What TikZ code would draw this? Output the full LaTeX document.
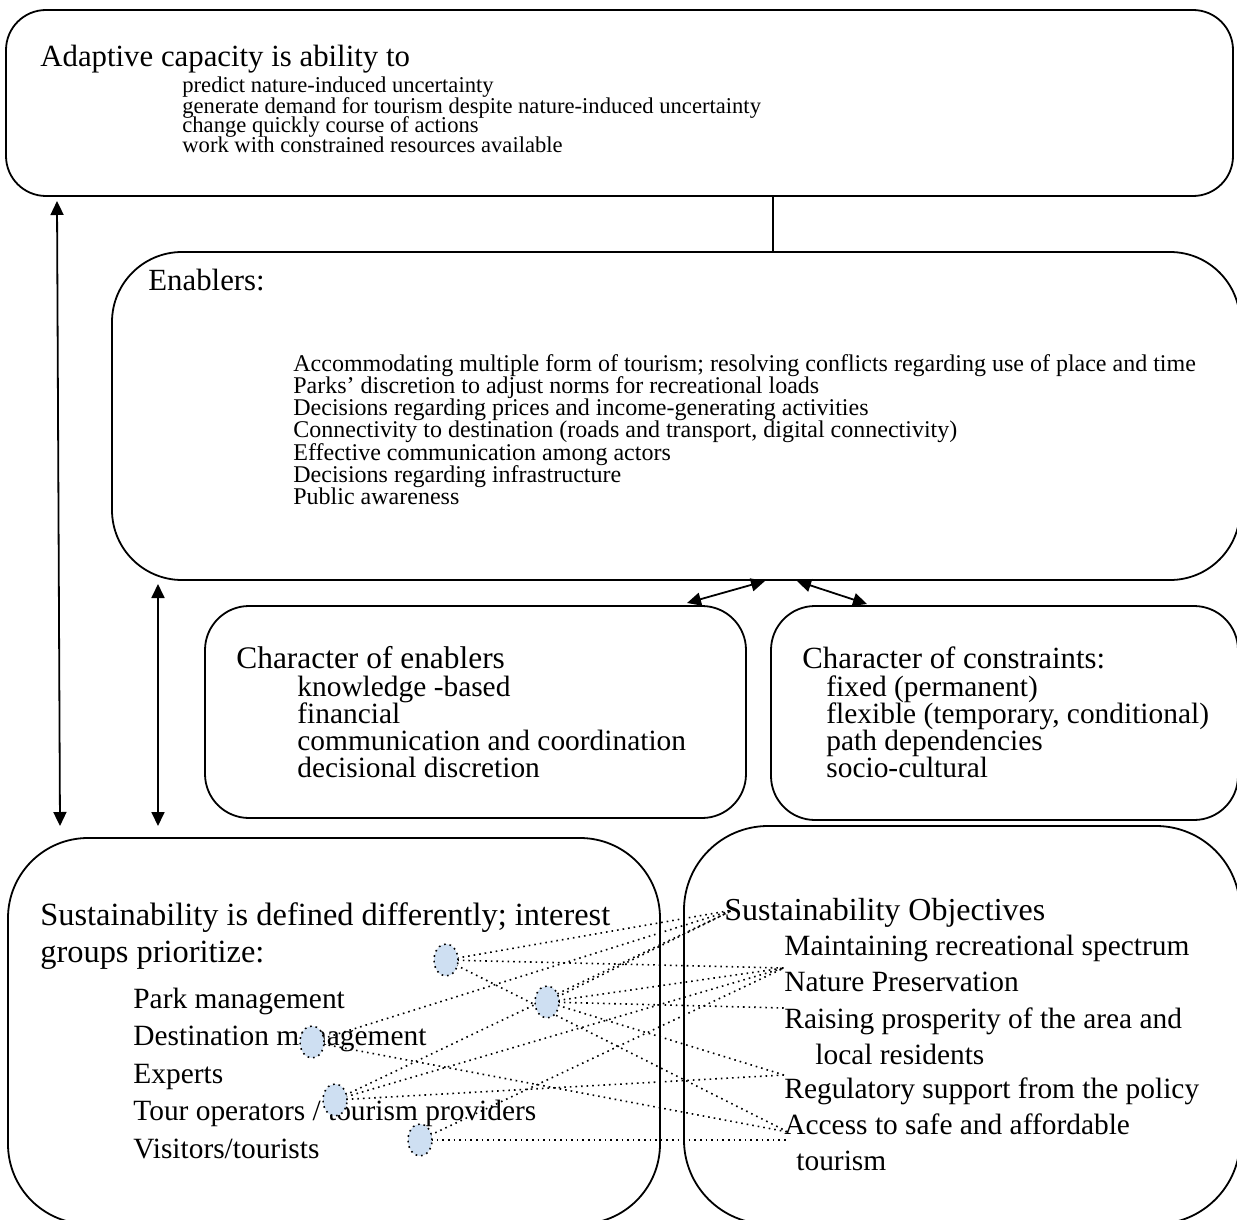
\documentclass[tikz,border=0pt]{standalone}
\usepackage{fontspec}
\setmainfont{Liberation Serif}
\usetikzlibrary{arrows.meta,shapes.geometric}

\definecolor{dotblue}{RGB}{206,223,242}

\newcommand{\bigtxt}{\fontsize{15.4}{18}\selectfont}
\newcommand{\toptxt}{\fontsize{16.2}{18}\selectfont}
\newcommand{\midtxt}{\fontsize{14.7}{18}\selectfont}
\newcommand{\smalltxt}{\fontsize{11.3}{9}\selectfont}
\newcommand{\listtxt}{\fontsize{12}{9}\selectfont}

\tikzset{
  box/.style={draw, line width=0.9pt, rounded corners=#1},
  box/.default=20pt,
  head/.style={anchor=base west, inner sep=0pt, font=\bigtxt},
  item/.style={anchor=base west, inner sep=0pt, font=\smalltxt},
  group/.style={ellipse, draw, dotted, line width=0.8pt, fill=dotblue,
    minimum width=12pt, minimum height=16pt, inner sep=0pt},
  link/.style={dotted, line width=0.8pt}
}

\begin{document}
\begin{tikzpicture}[x=0.5pt, y=-0.5pt, >={Triangle[length=7pt,width=6.5pt]}]
    \useasboundingbox (0,0) rectangle (1237,1220);
    \clip (0,0) rectangle (1237,1220);

    % boxes
    \node[box=20pt, minimum width=613.5pt, minimum height=93pt] (adapt) at (619.5,103) {};
    \node[box=35pt, minimum width=564pt, minimum height=164pt] (enab) at (676,416) {};
    \node[box=22pt, minimum width=270.5pt, minimum height=106pt] (charen) at (475.5,712) {};
    \node[box=22pt, minimum width=233.5pt, minimum height=107pt] (charco) at (1004.5,713) {};
    \node[box=40pt, minimum width=326pt, minimum height=193pt] (sustl) at (334,1031) {};
    \node[box=42pt, minimum width=278pt, minimum height=199pt] (sustr) at (962,1025) {};

    % adaptive capacity
    \node[head] (adapttitle) at (40,67) {Adaptive capacity is ability to};
    \foreach \t [count=\i from 0] in {predict nature-induced uncertainty,
        generate demand for tourism despite nature-induced uncertainty,
        change quickly course of actions,
        work with constrained resources available}
      \node[item] (adapt\i) at (182,93+20*\i) {\t};

    % enablers
    \node[head] (enabtitle) at (148,290) {Enablers:};
    \foreach \t [count=\i from 0] in {Accommodating multiple form of tourism; resolving conflicts regarding use of place and time,
        Parks’ discretion to adjust norms for recreational loads,
        Decisions regarding prices and income-generating activities,
        {Connectivity to destination (roads and transport, digital connectivity)},
        Effective communication among actors,
        Decisions regarding infrastructure,
        Public awareness}
      \node[item, font=\listtxt] (enab\i) at (293,371+22.3*\i) {\t};

    % character of enablers / constraints
    \node[head, font=\fontsize{15.7}{18}\selectfont] (charentitle) at (236,668) {Character of enablers};
    \foreach \t [count=\i from 0] in {knowledge -based, financial,
        communication and coordination, decisional discretion}
      \node[head, font=\midtxt] (charen\i) at (297,696+27*\i) {\t};
    \node[head] (charcotitle) at (802,668) {Character of constraints:};
    \foreach \t [count=\i from 0] in {fixed (permanent),
        {flexible (temporary, conditional)}, path dependencies, socio-cultural}
      \node[head, font=\midtxt] (charco\i) at (826,696+27*\i) {\t};

    % sustainability
    \node[head, font=\toptxt] (sustl1) at (40,925) {Sustainability is defined differently; interest};
    \node[head, font=\toptxt] (sustl2) at (40,962) {groups prioritize:};
    \foreach \t [count=\i from 0] in {Park management, Destination management,
        Experts, Tour operators / tourism providers, Visitors/tourists}
      \node[head, font=\midtxt] (party\i) at (133,1008+37.5*\i) {\t};

    \node[head, font=\fontsize{16}{18}\selectfont] (sustr0) at (724,920) {Sustainability Objectives};
    \node[head, font=\midtxt] (obj1) at (784,955) {Maintaining recreational spectrum};
    \node[head, font=\midtxt] (obj2) at (784,991) {Nature Preservation};
    \node[head, font=\midtxt] (obj3) at (784,1028) {Raising prosperity of the area and};
    \node[head, font=\midtxt] (obj3b) at (815,1064) {local residents};
    \node[head, font=\midtxt] (obj4) at (784,1098) {Regulatory support from the policy};
    \node[head, font=\midtxt] (obj5) at (784,1134) {Access to safe and affordable};
    \node[head, font=\midtxt] (obj5b) at (796,1170) {tourism};

    % connectors
    \coordinate (j) at (773,0);
    \draw[line width=0.9pt] (adapt.south -| j) -- (enab.north -| j);
    \coordinate (la) at (57,201);
    \coordinate (lb) at (60,826);
    \draw[<->, line width=0.9pt] (la) -- (lb);
    \coordinate (ma) at (158,584);
    \coordinate (mb) at (158,826);
    \draw[<->, line width=0.9pt] (ma) -- (mb);
    \coordinate (da) at (687,603);
    \coordinate (db) at (765,581);
    \coordinate (dc) at (797,581);
    \coordinate (dd) at (867,604);
    \draw[<->, line width=0.9pt] (da) -- (db);
    \draw[<->, line width=0.9pt] (dc) -- (dd);

    % interest groups and their objectives
    \coordinate (so) at (733,910);
    \coordinate (nat) at (784,968);
    \coordinate (rais) at (784,1008);
    \coordinate (reg) at (784,1075);
    \coordinate (acc) at (788,1132);
    \coordinate (tour) at (788,1140);

    \draw[link] (446,960) -- (so);
    \draw[link] (446,960) -- (nat);
    \draw[link] (446,960) -- (acc);
    \draw[link] (547,1002) -- (so);
    \draw[link] (547,1002) -- (nat);
    \draw[link] (547,1002) -- (rais);
    \draw[link] (547,1002) -- (reg);
    \draw[link] (312,1042) -- (so);
    \draw[link] (312,1042) -- (acc);
    \draw[link] (335,1100) -- (so);
    \draw[link] (335,1100) -- (nat);
    \draw[link] (335,1100) -- (reg);
    \draw[link] (420,1140) -- (nat);
    \draw[link] (420,1140) -- (tour);

    \node[group] (g1) at (446,960) {};
    \node[group] (g2) at (547,1002) {};
    \node[group] (g3) at (312,1042) {};
    \node[group] (g4) at (335,1100) {};
    \node[group] (g5) at (420,1140) {};
\end{tikzpicture}
\end{document}
